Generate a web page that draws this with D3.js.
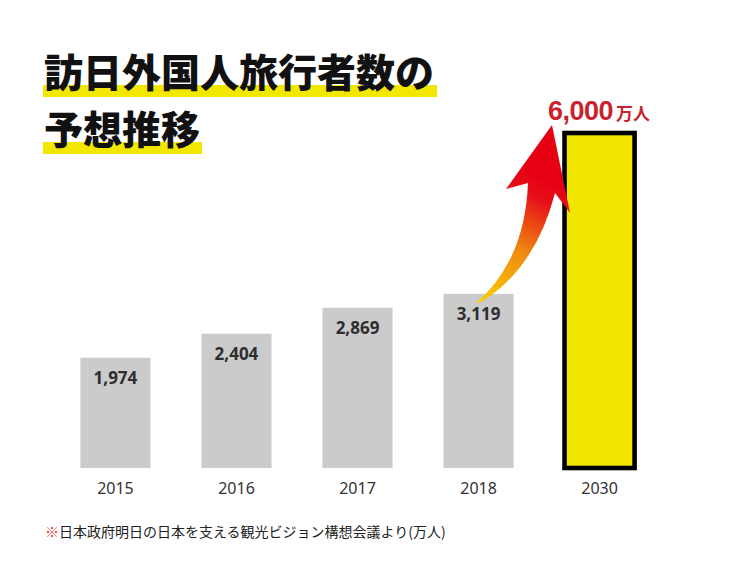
<!DOCTYPE html>
<html><head><meta charset="utf-8">
<script src="https://cdn.jsdelivr.net/npm/d3@7"></script>
<style>body{margin:0;background:#fff}svg{display:block}</style>
</head><body>
<svg id="c" width="738" height="570"></svg>
<script>
const years = ["2015","2016","2017","2018","2030"];
const values = [1974, 2404, 2869, 3119, 6000];
const valueLabels = ["1,974","2,404","2,869","3,119"];
const titleLines = ["訪日外国人旅行者数の","予想推移"];
const targetNumber = "6,000";
const targetUnit = "万人";
const footnoteMark = "※";
const footnoteText = "日本政府明日の日本を支える観光ビジョン構想会議より(万人)";

const svg = d3.select("#c");
const x = d3.scaleBand().domain(years).range([55,660]).paddingInner(0.421).paddingOuter(0.21);
const y = d3.scaleLinear().domain([0,6000]).range([468,133]);

// title with highlights
const jp = "'Noto Sans CJK JP', sans-serif";
const tg = svg.append("g");
const hl = [[43,85,394,12],[43,142,159,12]];
titleLines.forEach((t,i)=>{
  tg.append("rect").attr("x",hl[i][0]).attr("y",hl[i][1]).attr("width",hl[i][2]).attr("height",hl[i][3]).attr("fill","#f2e700");
});
titleLines.forEach((t,i)=>{
  tg.append("text").attr("x",44).attr("y",[87,144][i]).attr("font-family",jp).attr("font-weight",900)
    .attr("font-size",39).attr("fill","#111").text(t);
});

// bars
const data = years.map((yr,i)=>({yr, v:values[i], label:valueLabels[i]}));
svg.append("g").selectAll("rect").data(data.slice(0,4)).join("rect")
  .attr("x",d=>x(d.yr)).attr("y",d=>y(d.v)).attr("width",x.bandwidth()).attr("height",d=>y(0)-y(d.v))
  .attr("fill","#cbcbcb");
const last = data[4];
svg.append("rect").attr("x",x(last.yr)).attr("y",y(last.v)).attr("width",x.bandwidth()).attr("height",y(0)-y(last.v))
  .attr("fill","#f0e600").attr("stroke","#000").attr("stroke-width",4.6);

// value labels
svg.append("g").selectAll("text").data(data.slice(0,4)).join("text")
  .attr("x",d=>x(d.yr)+x.bandwidth()/2).attr("y",d=>y(d.v)+26).attr("text-anchor","middle")
  .attr("font-family","'Noto Sans', sans-serif").attr("font-weight",700).attr("font-size",17).attr("fill","#2e2e2e")
  .text(d=>d.label);

// x axis labels
const xa = svg.append("g").attr("transform","translate(0,480)").call(d3.axisBottom(x).tickSize(0).tickPadding(0));
xa.select(".domain").remove();
xa.selectAll("text").attr("font-family","'Noto Sans', sans-serif").attr("font-size",16).attr("fill","#333").attr("dy","0.85em");

// arrow
const defs = svg.append("defs");
const gr = defs.append("linearGradient").attr("id","ag").attr("gradientUnits","userSpaceOnUse")
  .attr("x1",480).attr("y1",303).attr("x2",540).attr("y2",175);
gr.append("stop").attr("offset",0).attr("stop-color","#f8cf00");
gr.append("stop").attr("offset",0.45).attr("stop-color","#f08a10");
gr.append("stop").attr("offset",0.85).attr("stop-color","#e60e18");
gr.append("stop").attr("offset",1).attr("stop-color","#e60012");
const p = d3.path();
const tail = [x("2018")+x.bandwidth()/2-2, y(values[3])+9];
p.moveTo(tail[0],tail[1]);
p.quadraticCurveTo(525,260,528,183);
p.lineTo(506,189);
p.lineTo(552,125);
p.lineTo(570,213);
p.lineTo(555,193);
p.quadraticCurveTo(535,270,tail[0]+3,tail[1]);
p.closePath();
svg.append("path").attr("d",p.toString()).attr("fill","url(#ag)");

// target label
const tl = svg.append("text").attr("x",548).attr("y",120).attr("fill","#c8232c")
  .attr("font-family","'Liberation Sans', Arial, sans-serif").attr("font-weight",700);
tl.append("tspan").attr("font-size",27).attr("letter-spacing",-0.5).text(targetNumber);
tl.append("tspan").attr("dx",3).attr("font-size",17).attr("font-family",jp).text(targetUnit);

// footnote
const fn = svg.append("text").attr("x",45).attr("y",537).attr("font-family",jp).attr("font-size",14);
fn.append("tspan").attr("fill","#e8332f").text(footnoteMark);
fn.append("tspan").attr("fill","#222").text(footnoteText);
</script>
</body></html>
